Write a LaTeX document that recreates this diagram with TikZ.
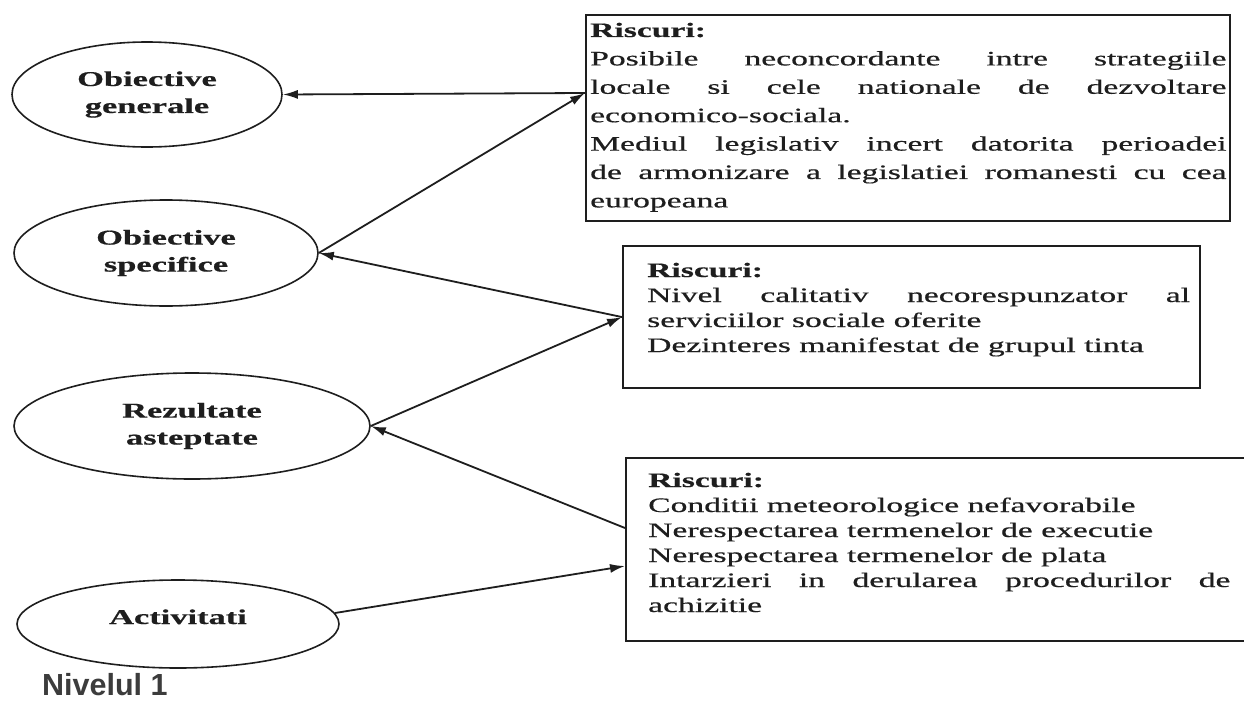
\documentclass[tikz,border=0pt]{standalone}
\usepackage{fontspec}
\setmainfont{Liberation Serif}[FakeBold=0.45]
\newfontfamily\labelsans{Liberation Sans}
\usetikzlibrary{shapes.geometric,arrows.meta,calc}
\definecolor{inkc}{HTML}{1E1E1E}
\definecolor{nivc}{HTML}{3C3C3C}
\newcommand{\sx}[1]{\scalebox{1.64}[1]{#1}}
\newcommand{\jl}[1]{\makebox[\linewidth][s]{#1}}
\newcommand{\risk}[3]{\sx{\parbox[t]{#1}{\fontsize{20.5}{#2}\selectfont\setlength{\parindent}{0pt}#3}}}
\tikzset{
  goal/.style={ellipse, draw=inkc, line width=1.6pt, inner sep=0pt, align=center,
    font=\fontsize{21}{27}\selectfont\bfseries, text=inkc},
  riskbox/.style={rectangle, draw=inkc, line width=2.1pt, inner sep=0pt, anchor=north west},
  risktext/.style={anchor=base west, inner sep=0pt, text=inkc},
  conn/.style={draw=inkc, line width=1.8pt},
  headed/.style={-{Latex[length=15pt,width=9pt]}},
}
\begin{document}
\begin{tikzpicture}[x=1pt,y=-1pt]
\fill[white] (0,0) rectangle (1244,701);
\useasboundingbox (0,0) rectangle (1244,701);

% ellipses
\node[goal, minimum width=270pt, minimum height=105pt] (e1) at (147,94.5) {\sx{Obiective}\\\sx{generale}};
\node[goal, minimum width=304pt, minimum height=106pt] (e2) at (166,253) {\sx{Obiective}\\\sx{specifice}};
\node[goal, minimum width=356pt, minimum height=106pt] (e3) at (192,426) {\sx{Rezultate}\\\sx{asteptate}};
\node[goal, minimum width=322pt, minimum height=88pt] (e4) at (178,624) {\smash{\sx{Activitati}}};

% risk boxes
\node[riskbox, minimum width=644pt, minimum height=206pt] (b1) at (585,14) {};
\node[riskbox, minimum width=577pt, minimum height=142pt] (b2) at (622,245) {};
\node[riskbox, minimum width=625pt, minimum height=183pt] (b3) at (625,457) {};

\node[risktext] (t1) at (590,37) {\risk{388pt}{28.4pt}{%
\textbf{Riscuri:}\par
\jl{Posibile neconcordante intre strategiile}\par
\jl{locale si cele nationale de dezvoltare}\par
economico-sociala.\par
\jl{Mediul legislativ incert datorita perioadei}\par
\jl{de armonizare a legislatiei romanesti cu cea}\par
europeana}};

\node[risktext] (t2) at (647,277) {\risk{331pt}{25pt}{%
\textbf{Riscuri:}\par
\jl{Nivel calitativ necorespunzator al}\par
serviciilor sociale oferite\par
Dezinteres manifestat de grupul tinta}};

\node[risktext] (t3) at (648,487) {\risk{355pt}{25pt}{%
\textbf{Riscuri:}\par
Conditii meteorologice nefavorabile\par
Nerespectarea termenelor de executie\par
Nerespectarea termenelor de plata\par
\jl{Intarzieri in derularea procedurilor de}\par
achizitie}};

% connection points on the boxes
\coordinate (b1in) at (585,93);
\coordinate (b3up) at (625,528);
\coordinate (b3lo) at (625,566);

% connectors
\draw[conn,headed] (b1in) -- (e1.east);
\draw[conn,headed] (e2.east) -- (b1in);
\draw[conn,headed] (b2.west) -- (e2.east);
\draw[conn,headed] (e3.east) -- (b2.west);
\draw[conn,headed] (b3up) -- (e3.east);
\draw[conn,headed] (e4.4) -- (b3lo);

% level label
\node[anchor=base west, inner sep=0pt, font=\labelsans\bfseries\fontsize{30.5}{30.5}\selectfont, text=nivc] (lvl) at (42,695) {Nivelul 1};
\end{tikzpicture}
\end{document}
